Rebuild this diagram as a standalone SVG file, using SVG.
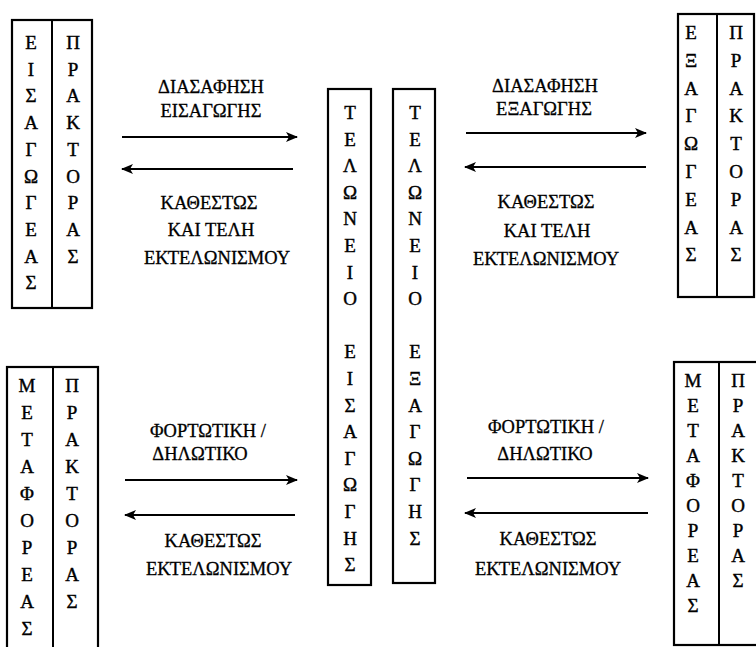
<svg xmlns="http://www.w3.org/2000/svg" width="756" height="647" viewBox="0 0 756 647">
  <style>
    .box { fill: none; stroke: #000; stroke-width: 2.2; }
    .div { stroke: #000; stroke-width: 2; }
    .v { font-family: "Liberation Serif", "Times New Roman", serif; font-size: 19px; text-anchor: middle; fill: #000; stroke: #000; stroke-width: 0.4; }
    .lbl { font-family: "Liberation Serif", "Times New Roman", serif; font-size: 18.5px; text-anchor: middle; fill: #000; stroke: #000; stroke-width: 0.3; }
    .arr { stroke: #000; stroke-width: 2; fill: none; marker-end: url(#head); }
  </style>
  <defs>
    <marker id="head" viewBox="0 0 12 10" refX="11" refY="5" markerWidth="12" markerHeight="10" markerUnits="userSpaceOnUse" orient="auto">
      <path d="M0,0 L12,5 L0,10 L3,5 Z" fill="#000"/>
    </marker>
  </defs>
  <rect width="756" height="647" fill="#fff"/>

  <!-- importer / agent (top left) -->
  <g id="importer">
    <rect class="box" x="12" y="20" width="80" height="288"/>
    <line class="div" x1="52" y1="20" x2="52" y2="308"/>
    <text class="v"><tspan x="31" y="49">Ε</tspan><tspan x="31" dy="26.7">Ι</tspan><tspan x="31" dy="26.7">Σ</tspan><tspan x="31" dy="26.7">Α</tspan><tspan x="31" dy="26.7">Γ</tspan><tspan x="31" dy="26.7">Ω</tspan><tspan x="31" dy="26.7">Γ</tspan><tspan x="31" dy="26.7">Ε</tspan><tspan x="31" dy="26.7">Α</tspan><tspan x="31" dy="26.7">Σ</tspan></text>
    <text class="v"><tspan x="73" y="49">Π</tspan><tspan x="73" dy="26.7">Ρ</tspan><tspan x="73" dy="26.7">Α</tspan><tspan x="73" dy="26.7">Κ</tspan><tspan x="73" dy="26.7">Τ</tspan><tspan x="73" dy="26.7">Ο</tspan><tspan x="73" dy="26.7">Ρ</tspan><tspan x="73" dy="26.7">Α</tspan><tspan x="73" dy="26.7">Σ</tspan></text>
  </g>

  <!-- exporter / agent (top right) -->
  <g id="exporter">
    <rect class="box" x="678" y="14" width="76" height="283"/>
    <line class="div" x1="717" y1="14" x2="717" y2="297"/>
    <text class="v"><tspan x="691" y="39">Ε</tspan><tspan x="691" dy="27.8">Ξ</tspan><tspan x="691" dy="27.8">Α</tspan><tspan x="691" dy="27.8">Γ</tspan><tspan x="691" dy="27.8">Ω</tspan><tspan x="691" dy="27.8">Γ</tspan><tspan x="691" dy="27.8">Ε</tspan><tspan x="691" dy="27.8">Α</tspan><tspan x="691" dy="27.8">Σ</tspan></text>
    <text class="v"><tspan x="736" y="39">Π</tspan><tspan x="736" dy="27.8">Ρ</tspan><tspan x="736" dy="27.8">Α</tspan><tspan x="736" dy="27.8">Κ</tspan><tspan x="736" dy="27.8">Τ</tspan><tspan x="736" dy="27.8">Ο</tspan><tspan x="736" dy="27.8">Ρ</tspan><tspan x="736" dy="27.8">Α</tspan><tspan x="736" dy="27.8">Σ</tspan></text>
  </g>

  <!-- carrier / agent (bottom left) -->
  <g id="carrier-import">
    <rect class="box" x="7" y="367" width="91" height="290"/>
    <line class="div" x1="53" y1="367" x2="53" y2="647"/>
    <text class="v"><tspan x="27" y="392">Μ</tspan><tspan x="27" dy="27">Ε</tspan><tspan x="27" dy="27">Τ</tspan><tspan x="27" dy="27">Α</tspan><tspan x="27" dy="27">Φ</tspan><tspan x="27" dy="27">Ο</tspan><tspan x="27" dy="27">Ρ</tspan><tspan x="27" dy="27">Ε</tspan><tspan x="27" dy="27">Α</tspan><tspan x="27" dy="27">Σ</tspan></text>
    <text class="v"><tspan x="72" y="392">Π</tspan><tspan x="72" dy="27">Ρ</tspan><tspan x="72" dy="27">Α</tspan><tspan x="72" dy="27">Κ</tspan><tspan x="72" dy="27">Τ</tspan><tspan x="72" dy="27">Ο</tspan><tspan x="72" dy="27">Ρ</tspan><tspan x="72" dy="27">Α</tspan><tspan x="72" dy="27">Σ</tspan></text>
  </g>

  <!-- carrier / agent (bottom right) -->
  <g id="carrier-export">
    <rect class="box" x="674" y="362" width="92" height="283"/>
    <line class="div" x1="719" y1="362" x2="719" y2="645"/>
    <text class="v"><tspan x="693" y="387">Μ</tspan><tspan x="693" dy="25">Ε</tspan><tspan x="693" dy="25">Τ</tspan><tspan x="693" dy="25">Α</tspan><tspan x="693" dy="25">Φ</tspan><tspan x="693" dy="25">Ο</tspan><tspan x="693" dy="25">Ρ</tspan><tspan x="693" dy="25">Ε</tspan><tspan x="693" dy="25">Α</tspan><tspan x="693" dy="25">Σ</tspan></text>
    <text class="v"><tspan x="738" y="387">Π</tspan><tspan x="738" dy="25">Ρ</tspan><tspan x="738" dy="25">Α</tspan><tspan x="738" dy="25">Κ</tspan><tspan x="738" dy="25">Τ</tspan><tspan x="738" dy="25">Ο</tspan><tspan x="738" dy="25">Ρ</tspan><tspan x="738" dy="25">Α</tspan><tspan x="738" dy="25">Σ</tspan></text>
  </g>

  <!-- customs office of import -->
  <g id="customs-import">
    <rect class="box" x="328" y="89" width="43" height="496"/>
    <text class="v"><tspan x="350" y="119">Τ</tspan><tspan x="350" dy="26.6">Ε</tspan><tspan x="350" dy="26.6">Λ</tspan><tspan x="350" dy="26.6">Ω</tspan><tspan x="350" dy="26.6">Ν</tspan><tspan x="350" dy="26.6">Ε</tspan><tspan x="350" dy="26.6">Ι</tspan><tspan x="350" dy="26.6">Ο</tspan><tspan x="350" dy="53.2">Ε</tspan><tspan x="350" dy="26.6">Ι</tspan><tspan x="350" dy="26.6">Σ</tspan><tspan x="350" dy="26.6">Α</tspan><tspan x="350" dy="26.6">Γ</tspan><tspan x="350" dy="26.6">Ω</tspan><tspan x="350" dy="26.6">Γ</tspan><tspan x="350" dy="26.6">Η</tspan><tspan x="350" dy="26.6">Σ</tspan></text>
  </g>

  <!-- customs office of export -->
  <g id="customs-export">
    <rect class="box" x="393" y="89" width="42" height="494"/>
    <text class="v"><tspan x="415" y="119">Τ</tspan><tspan x="415" dy="26.6">Ε</tspan><tspan x="415" dy="26.6">Λ</tspan><tspan x="415" dy="26.6">Ω</tspan><tspan x="415" dy="26.6">Ν</tspan><tspan x="415" dy="26.6">Ε</tspan><tspan x="415" dy="26.6">Ι</tspan><tspan x="415" dy="26.6">Ο</tspan><tspan x="415" dy="53.2">Ε</tspan><tspan x="415" dy="26.6">Ξ</tspan><tspan x="415" dy="26.6">Α</tspan><tspan x="415" dy="26.6">Γ</tspan><tspan x="415" dy="26.6">Ω</tspan><tspan x="415" dy="26.6">Γ</tspan><tspan x="415" dy="26.6">Η</tspan><tspan x="415" dy="26.6">Σ</tspan></text>
  </g>

  <!-- message flows -->
  <g id="connectors">
    <line class="arr" x1="122" y1="137" x2="297" y2="137"/>
    <line class="arr" x1="293" y1="169" x2="122" y2="169"/>
    <line class="arr" x1="466" y1="133" x2="646" y2="133"/>
    <line class="arr" x1="646" y1="167" x2="465" y2="167"/>
    <line class="arr" x1="125" y1="480" x2="297" y2="480"/>
    <line class="arr" x1="295" y1="515" x2="125" y2="515"/>
    <line class="arr" x1="467" y1="478" x2="648" y2="478"/>
    <line class="arr" x1="648" y1="513" x2="465" y2="513"/>

    <text class="lbl" x="211" y="93">ΔΙΑΣΑΦΗΣΗ</text>
    <text class="lbl" x="211" y="117">ΕΙΣΑΓΩΓΗΣ</text>
    <text class="lbl" x="209" y="209">ΚΑΘΕΣΤΩΣ</text>
    <text class="lbl" x="211" y="236">ΚΑΙ ΤΕΛΗ</text>
    <text class="lbl" x="217" y="264">ΕΚΤΕΛΩΝΙΣΜΟΥ</text>

    <text class="lbl" x="545" y="92">ΔΙΑΣΑΦΗΣΗ</text>
    <text class="lbl" x="544" y="115">ΕΞΑΓΩΓΗΣ</text>
    <text class="lbl" x="546" y="208">ΚΑΘΕΣΤΩΣ</text>
    <text class="lbl" x="547" y="237">ΚΑΙ ΤΕΛΗ</text>
    <text class="lbl" x="546" y="265">ΕΚΤΕΛΩΝΙΣΜΟΥ</text>

    <text class="lbl" x="208" y="437">ΦΟΡΤΩΤΙΚΗ /</text>
    <text class="lbl" x="200" y="460">ΔΗΛΩΤΙΚΟ</text>
    <text class="lbl" x="213" y="547">ΚΑΘΕΣΤΩΣ</text>
    <text class="lbl" x="219" y="575">ΕΚΤΕΛΩΝΙΣΜΟΥ</text>

    <text class="lbl" x="546" y="433">ΦΟΡΤΩΤΙΚΗ /</text>
    <text class="lbl" x="545" y="460">ΔΗΛΩΤΙΚΟ</text>
    <text class="lbl" x="548" y="545">ΚΑΘΕΣΤΩΣ</text>
    <text class="lbl" x="548" y="575">ΕΚΤΕΛΩΝΙΣΜΟΥ</text>
  </g>
</svg>
